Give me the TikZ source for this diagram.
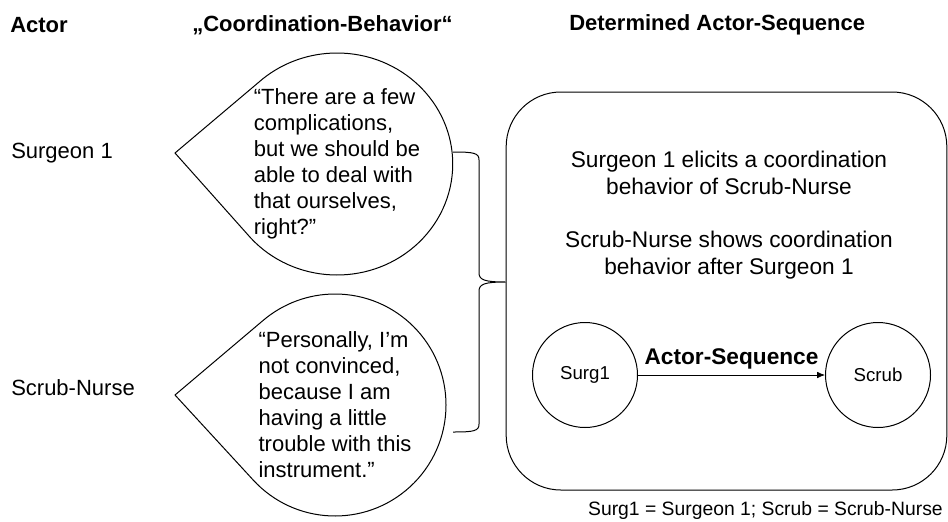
\documentclass[tikz,border=0pt]{standalone}
\usepackage{fontspec}
\setmainfont{Liberation Sans}
\usetikzlibrary{shapes.callouts,arrows.meta}

\tikzset{
  header/.style={font=\bfseries\fontsize{16.5}{19}\selectfont, anchor=west, inner sep=0pt},
  actorname/.style={font=\fontsize{16.5}{19}\selectfont, anchor=west, inner sep=0pt},
  bubble/.style={draw, line width=0.75pt, ellipse callout, callout pointer arc=92,
    minimum width=166.5pt, minimum height=166.5pt, inner sep=-1pt,
    align=left, font=\fontsize{16.5}{19.5}\selectfont},
  seqtext/.style={align=center, font=\fontsize{17}{20.25}\selectfont},
  actorcircle/.style={draw, circle, line width=0.75pt, minimum size=78.75pt, inner sep=0pt,
    font=\fontsize{14}{16}\selectfont},
  bracepath/.style={line width=0.75pt}
}

\begin{document}
\begin{tikzpicture}[x=0.75pt,y=-0.75pt]
  \useasboundingbox (0,0) rectangle (948,521);

  % Column headers
  \node[header] (hactor) at (10,25) {Actor};
  \node[header] (hbehav) at (192,25) {„Coordination-Behavior“};
  \node[header] (hseq) at (569,25) {Determined Actor-Sequence};

  % Actors
  \node[actorname] (surgeon) at (11,153) {Surgeon 1};
  \node[actorname] (nurse) at (11,388) {Scrub-Nurse};

  % Speech bubbles
  \coordinate (tip1) at (175,153);
  \coordinate (tip2) at (175,395);
  \node[bubble, callout absolute pointer={(tip1)}] (quote1) at (337,164)
    {“There are a few\\complications,\\but we should be\\able to deal with\\that ourselves,\\right?”};
  \node[bubble, callout absolute pointer={(tip2)}] (quote2) at (335,405)
    {“Personally, I’m\\not convinced,\\because I am\\having a little\\trouble with this\\instrument.”};

  % Sequence box
  \node[draw, line width=0.75pt, rounded corners=41pt, minimum width=330.5pt,
    minimum height=298.5pt] (seqbox) at (726.5,291) {};

  % Brace joining both quotes to the box
  \coordinate (bracetop) at (453,152);
  \coordinate (bracebot) at (453,432);
  \coordinate (bracetip) at (seqbox.west |- 0,282);
  \draw[bracepath] (bracetop) .. controls (474,152) and (479,153) .. (479,160)
    -- (479,273) .. controls (479,280) and (485,282) .. (bracetip)
    .. controls (485,282) and (479,284) .. (479,291)
    -- (479,424) .. controls (479,431) and (474,432) .. (bracebot);

  \node[seqtext] (elicit) at (729,173) {Surgeon 1 elicits a coordination\\behavior of Scrub-Nurse};
  \node[seqtext] (shows) at (729,255) {Scrub-Nurse shows coordination\\behavior after Surgeon 1};

  % Actor sequence
  \node[actorcircle] (surg) at (585,375) {Surg1};
  \node[actorcircle] (scrub) at (878,375) {Scrub};
  \draw[line width=0.6pt, -{Latex[length=6pt,width=5pt]}] (surg) -- (scrub)
    node[midway, above, inner sep=4pt, font=\bfseries\fontsize{17}{20}\selectfont] (seqlabel) {Actor-Sequence};

  \node[anchor=east, inner sep=0pt, font=\fontsize{14.5}{17}\selectfont] (legend) at (943,510)
    {Surg1 = Surgeon 1; Scrub = Scrub-Nurse};
\end{tikzpicture}
\end{document}
